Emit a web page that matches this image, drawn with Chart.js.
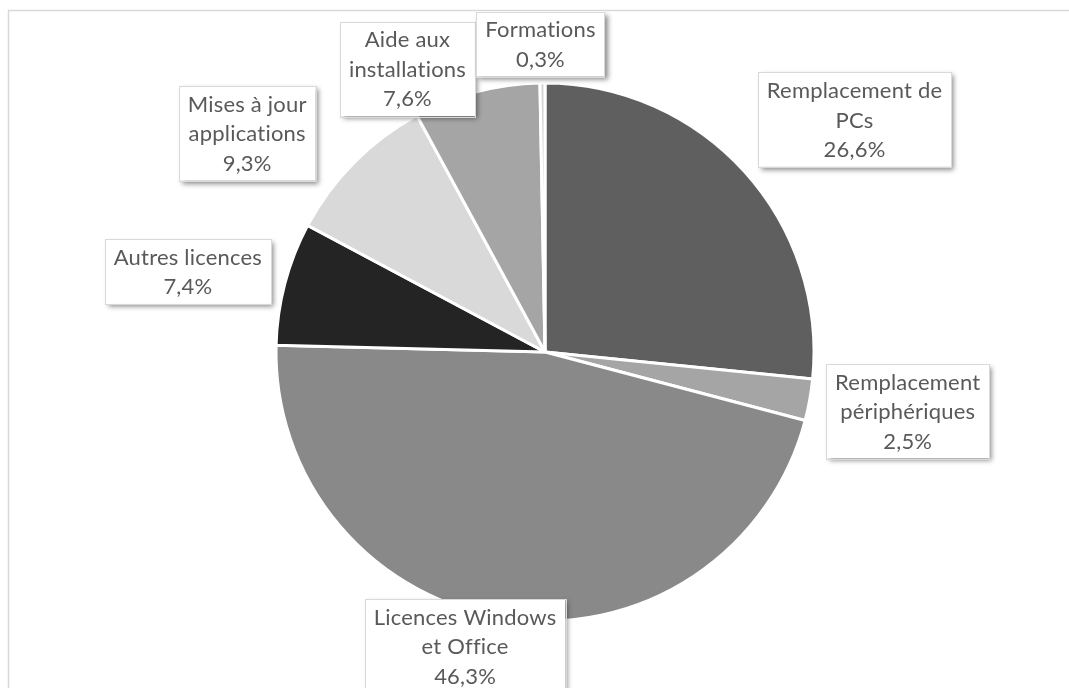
<!DOCTYPE html>
<html>
<head>
<meta charset="utf-8">
<script src="https://cdn.jsdelivr.net/npm/chart.js@4.4.1/dist/chart.umd.min.js"></script>
<style>
html,body{margin:0;padding:0;background:#fff;}
#wrap{position:relative;width:1069px;height:688px;}
</style>
</head>
<body>
<div id="wrap"><canvas id="c" width="1069" height="688"></canvas></div>
<script>
// Data
const categories = [
  ["Remplacement de", "PCs"],
  ["Remplacement", "périphériques"],
  ["Licences Windows", "et Office"],
  ["Autres licences"],
  ["Mises à jour", "applications"],
  ["Aide aux", "installations"],
  ["Formations"]
];
const shares = [26.6, 2.5, 46.3, 7.4, 9.3, 7.6, 0.3];
const sliceColors = ["#5f5f5f", "#a5a5a5", "#898989", "#242424", "#d9d9d9", "#a5a5a5", "#d4d4d4"];
// label nudges from the mid point of each arc's outer edge
const labelNudge = [[110, -52], [98, 11], [-42, 28], [-97, -12], [-107, -29], [-69, -23], [-2, -39]];

const FONT = '22px Lato';
const LINE_H = 29.5;

const frame = {
  id: 'frame',
  beforeDraw(chart) {
    const ctx = chart.ctx;
    ctx.save();
    ctx.strokeStyle = '#d9d9d9';
    ctx.lineWidth = 1.5;
    ctx.strokeRect(8.5, 10.5, 1100, 720);
    ctx.restore();
  }
};

const boxLabels = {
  id: 'boxLabels',
  afterDatasetsDraw(chart) {
    const ctx = chart.ctx;
    const meta = chart.getDatasetMeta(0);
    ctx.save();
    ctx.font = FONT;
    if ('letterSpacing' in ctx) ctx.letterSpacing = '0.2px';
    meta.data.forEach((arc, i) => {
      const p = arc.getProps(['x', 'y', 'startAngle', 'endAngle', 'outerRadius'], true);
      const mid = (p.startAngle + p.endAngle) / 2;
      const ax = p.x + Math.cos(mid) * p.outerRadius;
      const ay = p.y + Math.sin(mid) * p.outerRadius;
      const cx = ax + labelNudge[i][0];
      const cy = ay + labelNudge[i][1];
      const lines = categories[i].concat([shares[i].toFixed(1).replace('.', ',') + '%']);
      let w = 0;
      lines.forEach(l => { w = Math.max(w, ctx.measureText(l).width); });
      const bw = w + 18;
      const bh = lines.length * LINE_H + 6;
      const bx = cx - bw / 2, by = cy - bh / 2;
      ctx.save();
      ctx.shadowColor = 'rgba(0,0,0,0.45)';
      ctx.shadowBlur = 5;
      ctx.shadowOffsetX = 3;
      ctx.shadowOffsetY = 3;
      ctx.fillStyle = '#ffffff';
      ctx.fillRect(bx, by, bw, bh);
      ctx.restore();
      ctx.strokeStyle = '#d9d9d9';
      ctx.lineWidth = 1;
      ctx.strokeRect(Math.round(bx) + 0.5, Math.round(by) + 0.5, Math.round(bw), Math.round(bh));
      ctx.fillStyle = '#595959';
      ctx.textAlign = 'center';
      ctx.textBaseline = 'middle';
      lines.forEach((l, k) => {
        ctx.fillText(l, cx, by + 3 + LINE_H * (k + 0.5) + 1);
      });
    });
    ctx.restore();
  }
};

new Chart(document.getElementById('c'), {
  type: 'pie',
  data: {
    labels: categories,
    datasets: [{
      data: shares,
      backgroundColor: sliceColors,
      borderColor: '#ffffff',
      borderWidth: 3
    }]
  },
  options: {
    responsive: false,
    animation: false,
    radius: 269,
    layout: { padding: { left: 21, right: 0, top: 16, bottom: 0 } },
    plugins: {
      legend: { display: false },
      tooltip: { enabled: false },
      title: { display: false }
    }
  },
  plugins: [frame, boxLabels]
});
</script>
</body>
</html>
